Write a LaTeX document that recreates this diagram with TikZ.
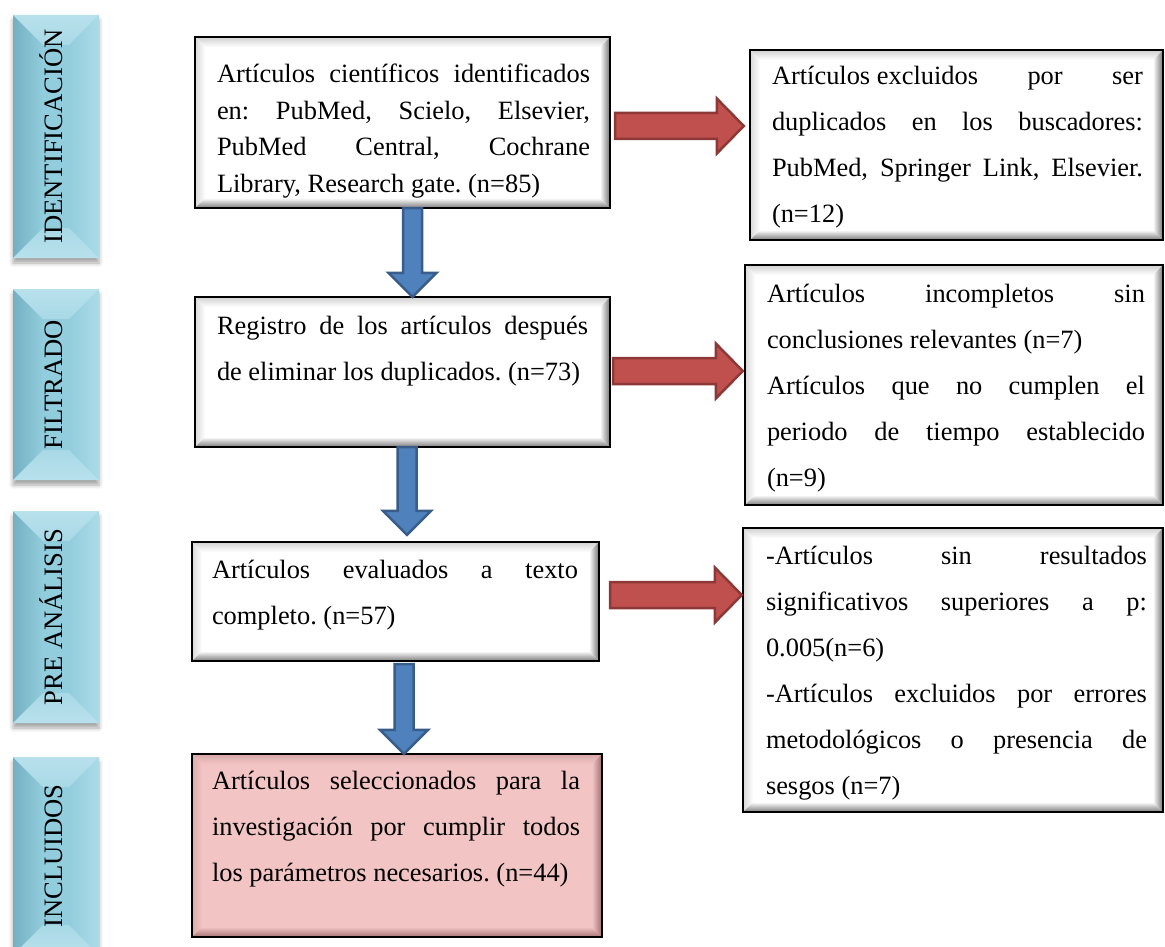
\documentclass[tikz,border=0pt]{standalone}
\usepackage{fontspec}
\setmainfont{Liberation Serif}
\usetikzlibrary{calc,shadows.blur}

\definecolor{sideface}{RGB}{146,205,221}
\definecolor{sidelight}{RGB}{184,225,236}
\definecolor{sidedark}{RGB}{116,176,194}
\definecolor{pinkface}{RGB}{243,196,196}
\definecolor{pinkedge}{RGB}{150,100,100}
\definecolor{greyedge}{RGB}{100,100,100}
\definecolor{arrowred}{RGB}{192,80,77}
\definecolor{arrowredline}{RGB}{140,56,54}
\definecolor{arrowblue}{RGB}{79,129,189}
\definecolor{arrowblueline}{RGB}{56,93,138}

\newcommand{\wordgap}{\spaceskip=.25em\xspaceskip=.25em\relax}
\newcommand{\jline}[1]{\makebox[\hsize][s]{\spaceskip=.25em plus 1fil\xspaceskip=\spaceskip\relax#1}\\}
\newcommand{\sidetext}[1]{\rotatebox{90}{\rule[-12pt]{0pt}{36pt}#1}}

\newcommand{\flowright}[3]{%
  \draw[#1] let \p1=(#2), \p2=(#3) in
    (\x1,\y1+13pt) -- (\x2-27pt,\y1+13pt) -- (\x2-27pt,\y1+27.5pt) -- (\x2,\y1)
    -- (\x2-27pt,\y1-27.5pt) -- (\x2-27pt,\y1-13pt) -- (\x1,\y1-13pt) -- cycle;}

\newcommand{\flowdown}[3]{%
  \draw[#1] let \p1=(#2), \p2=(#3) in
    (\x1-9.5pt,\y1) -- (\x1-9.5pt,\y2+24pt) -- (\x1-24pt,\y2+24pt) -- (\x1,\y2)
    -- (\x1+24pt,\y2+24pt) -- (\x1+9.5pt,\y2+24pt) -- (\x1+9.5pt,\y1) -- cycle;}

\begin{document}
\frenchspacing
\begin{tikzpicture}[x=1pt,y=-1pt,
  bevelbox/.style 2 args={fill=#1, inner sep=0pt,
    path picture={
      \coordinate (pnw) at (path picture bounding box.north west);
      \coordinate (pne) at (path picture bounding box.north east);
      \coordinate (psw) at (path picture bounding box.south west);
      \coordinate (pse) at (path picture bounding box.south east);
      \shade[top color=#2!30!#1, bottom color=#1] (pnw) -- (pne) -- ([shift={(-10pt,-10pt)}]pne) -- ([shift={(10pt,-10pt)}]pnw) -- cycle;
      \shade[left color=#2!25!#1, right color=#1] (pnw) -- ([shift={(10pt,-10pt)}]pnw) -- ([shift={(10pt,10pt)}]psw) -- (psw) -- cycle;
      \shade[left color=#1, right color=#2!90!#1] (pne) -- ([shift={(-10pt,-10pt)}]pne) -- ([shift={(-10pt,10pt)}]pse) -- (pse) -- cycle;
      \shade[top color=#1, bottom color=#2!85!#1] (psw) -- ([shift={(10pt,10pt)}]psw) -- ([shift={(-10pt,10pt)}]pse) -- (pse) -- cycle;
    },
    postaction={draw=black, line width=2.2pt}},
  whitebox/.style={bevelbox={white}{greyedge}},
  pinkbox/.style={bevelbox={pinkface}{pinkedge}},
  sidelabel/.style={fill=sideface, inner sep=0pt, minimum width=86pt,
    font=\fontsize{26.6pt}{30pt}\selectfont,
    blur shadow={shadow xshift=0pt, shadow yshift=-5pt, shadow blur radius=4pt, shadow opacity=35},
    path picture={
      \coordinate (pnw) at (path picture bounding box.north west);
      \coordinate (pne) at (path picture bounding box.north east);
      \coordinate (psw) at (path picture bounding box.south west);
      \coordinate (pse) at (path picture bounding box.south east);
      \shade[left color=sidedark, right color=sideface] (pnw) -- ([shift={(30pt,-30pt)}]pnw) -- ([shift={(30pt,30pt)}]psw) -- (psw) -- cycle;
      \shade[left color=sideface, right color=sidelight!70!sideface] (pne) -- ([shift={(-30pt,-30pt)}]pne) -- ([shift={(-30pt,30pt)}]pse) -- (pse) -- cycle;
      \shade[top color=sidelight, bottom color=sidelight!60!sideface] (pnw) -- (pne) -- ([shift={(-30pt,-30pt)}]pne) -- ([shift={(30pt,-30pt)}]pnw) -- cycle;
      \shade[top color=sidelight!60!sideface, bottom color=sidelight] (psw) -- ([shift={(30pt,30pt)}]psw) -- ([shift={(-30pt,30pt)}]pse) -- (pse) -- cycle;
    }},
  boxtext/.style={anchor=base west, inner sep=0pt,
    font=\fontsize{26.4pt}{46pt}\selectfont, execute at begin node=\wordgap},
  redarrow/.style={fill=arrowred, draw=arrowredline, line width=2.5pt},
  bluearrow/.style={fill=arrowblue, draw=arrowblueline, line width=2.5pt}]

\useasboundingbox (0,0) rectangle (1165,947);

\node[sidelabel, minimum height=243pt] (s1) at (56,136.5) {\sidetext{IDENTIFICACIÓN}};
\node[sidelabel, minimum height=191pt] (s2) at (56,384.5) {\sidetext{FILTRADO}};
\node[sidelabel, minimum height=212pt] (s3) at (56,617) {\sidetext{PRE ANÁLISIS}};
\node[sidelabel, minimum height=198pt] (s4) at (56,856) {\sidetext{INCLUIDOS}};

\node[whitebox, minimum width=415pt, minimum height=171pt] (b1) at (402.5,122.5) {};
\node[whitebox, minimum width=415pt, minimum height=150pt] (b2) at (402.5,372) {};
\node[whitebox, minimum width=407pt, minimum height=119pt] (b3) at (395.5,601.5) {};
\node[pinkbox, minimum width=410pt, minimum height=183pt] (b4) at (397,845.5) {};

\node[whitebox, minimum width=413pt, minimum height=190pt] (r1) at (956.5,145) {};
\node[whitebox, minimum width=418pt, minimum height=240pt] (r2) at (954,385) {};
\node[whitebox, minimum width=420pt, minimum height=284pt] (r3) at (953,670) {};

\node[boxtext, text width=373pt, font=\fontsize{26.4pt}{36.5pt}\selectfont] (t1) at ([shift={(22pt,-46pt)}]b1.north west)
  {\jline{Artículos científicos identificados}\jline{en: PubMed, Scielo, Elsevier,}\jline{PubMed Central, Cochrane}Library, Research gate. (n=85)};
\node[boxtext, text width=371pt] (t2) at ([shift={(22pt,-38pt)}]b2.north west)
  {\jline{Registro de los artículos después}de eliminar los duplicados. (n=73)};
\node[boxtext, text width=366pt] (t3) at ([shift={(20pt,-37pt)}]b3.north west)
  {\jline{Artículos evaluados a texto}completo. (n=57)};
\node[boxtext, text width=368pt] (t4) at ([shift={(20pt,-36pt)}]b4.north west)
  {\jline{Artículos seleccionados para la}\jline{investigación por cumplir todos}los parámetros necesarios. (n=44)};

\node[boxtext, text width=371pt] (u1) at ([shift={(22pt,-35pt)}]r1.north west)
  {\jline{Artículos excluidos\hfill por\hfill ser}\jline{duplicados en los buscadores:}\jline{PubMed, Springer Link, Elsevier.}(n=12)};
\node[boxtext, text width=378pt] (u2) at ([shift={(22pt,-38pt)}]r2.north west)
  {\jline{Artículos incompletos sin}conclusiones relevantes (n=7)\\\jline{Artículos que no cumplen el}\jline{periodo de tiempo establecido}(n=9)};
\node[boxtext, text width=381pt] (u3) at ([shift={(23pt,-37pt)}]r3.north west)
  {\jline{-Artículos sin resultados}\jline{significativos superiores a p:}0.005(n=6)\\\jline{-Artículos excluidos por errores}\jline{metodológicos o presencia de}sesgos (n=7)};

\flowright{redarrow}{[xshift=5pt,yshift=-3.5pt]b1.east}{[xshift=-6pt]r1.west}
\flowright{redarrow}{[xshift=3pt,yshift=1pt]b2.east}{[xshift=-2pt]r2.west}
\flowright{redarrow}{[xshift=11pt,yshift=6.5pt]b3.east}{[xshift=-1pt]r3.west}

\flowdown{bluearrow}{[xshift=10pt]b1.south}{b2.north}
\flowdown{bluearrow}{[xshift=4.5pt]b2.south}{[yshift=7pt]b3.north}
\flowdown{bluearrow}{[xshift=8.5pt,yshift=-3pt]b3.south}{b4.north}
\end{tikzpicture}
\end{document}
